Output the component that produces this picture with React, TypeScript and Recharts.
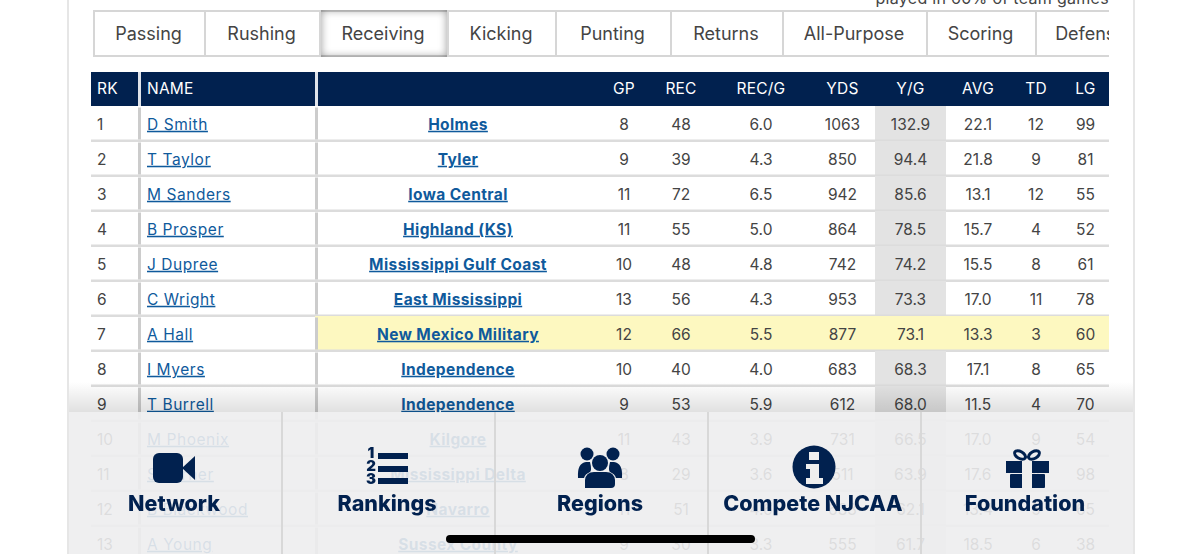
import { BarChart, Bar, XAxis, YAxis } from 'recharts';

const ranks = [1, 2, 3, 4, 5, 6, 7, 8, 9, 10, 11, 12, 13];
const names = ['D Smith', 'T Taylor', 'M Sanders', 'B Prosper', 'J Dupree', 'C Wright', 'A Hall', 'I Myers', 'T Burrell', 'M Phoenix', 'S Turner', 'B Blackwood', 'A Young'];
const teams = ['Holmes', 'Tyler', 'Iowa Central', 'Highland (KS)', 'Mississippi Gulf Coast', 'East Mississippi', 'New Mexico Military', 'Independence', 'Independence', 'Kilgore', 'Mississippi Delta', 'Navarro', 'Sussex County'];
const gp = [8, 9, 11, 11, 10, 13, 12, 10, 9, 11, 8, 11, 9];
const rec = [48, 39, 72, 55, 48, 56, 66, 40, 53, 43, 29, 51, 30];
const recPerGame = [6.0, 4.3, 6.5, 5.0, 4.8, 4.3, 5.5, 4.0, 5.9, 3.9, 3.6, 4.6, 3.3];
const yds = [1063, 850, 942, 864, 742, 953, 877, 683, 612, 731, 511, 683, 555];
const yardsPerGame = [132.9, 94.4, 85.6, 78.5, 74.2, 73.3, 73.1, 68.3, 68.0, 66.5, 63.9, 62.1, 61.7];
const avg = [22.1, 21.8, 13.1, 15.7, 15.5, 17.0, 13.3, 17.1, 11.5, 17.0, 17.6, 13.4, 18.5];
const td = [12, 9, 12, 4, 8, 11, 3, 8, 4, 9, 4, 5, 6];
const lg = [99, 81, 55, 52, 61, 78, 60, 65, 70, 54, 98, 65, 38];

const tabs = ['Passing', 'Rushing', 'Receiving', 'Kicking', 'Punting', 'Returns', 'All-Purpose', 'Scoring', 'Defense'];
const tabEdges = [93, 204, 319, 447, 555, 670, 782, 926, 1035, 1146];
const navLabels = ['Network', 'Rankings', 'Regions', 'Compete NJCAA', 'Foundation'];

const FONT = 'Inter, "Open Sans", sans-serif';
const NAVY = '#01214f';
const INK = '#444444';
const LINK = '#0f5a9c';
const SELECTED_ROW = 7;

const fixed = (v: number) => v.toFixed(1);

const header: Record<string, string> = {
  rk: 'RK', name: 'NAME', team: '', gp: 'GP', rec: 'REC', recg: 'REC/G', yds: 'YDS', yg: 'Y/G', avg: 'AVG', td: 'TD', lg: 'LG',
};

const table = [
  header,
  ...ranks.map((r, i) => ({
    rk: String(r),
    name: names[i],
    team: teams[i],
    gp: String(gp[i]),
    rec: String(rec[i]),
    recg: fixed(recPerGame[i]),
    yds: String(yds[i]),
    yg: fixed(yardsPerGame[i]),
    avg: fixed(avg[i]),
    td: String(td[i]),
    lg: String(lg[i]),
  })),
];

// column widths in px, the x axis runs 1:1 with the page
const columns = [
  { key: 'rk', width: 47 },
  { key: 'name', width: 177 },
  { key: 'team', width: 283 },
  { key: 'gp', width: 52 },
  { key: 'rec', width: 62 },
  { key: 'recg', width: 98 },
  { key: 'yds', width: 65 },
  { key: 'yg', width: 71 },
  { key: 'avg', width: 64 },
  { key: 'td', width: 52 },
  { key: 'lg', width: 47 },
];

const makeCell = (key: string) => (props: any) => {
  const { x, y, width, height, index } = props;
  const value = props.payload[key];
  const isHeader = index === 0;
  const selected = ranks[index - 1] === SELECTED_ROW && key !== 'rk' && key !== 'name';
  const hasBar = key === 'name' || key === 'team';

  let bg = 'none';
  if (isHeader) bg = NAVY;
  else if (key === 'yg') bg = '#e3e3e3';
  if (selected) bg = '#fdf8c0';

  const left = key === 'rk' || key === 'name';
  const textX = key === 'rk' ? x + 6 : key === 'name' ? x + 9 : x + width / 2 + (key === 'team' ? 1.5 : 0);
  const isName = key === 'name' && !isHeader;
  const isTeam = key === 'team' && !isHeader;

  let spacing = 0;
  if (isHeader) spacing = 0.2;
  if (isName) spacing = 0.55;
  if (isTeam) spacing = 0.4;

  return (
    <g>
      <rect x={x} y={isHeader ? y + 1 : y} width={width} height={isHeader ? height - 1 : height} fill={bg} />
      {!isHeader && <rect x={x} y={y + height - 1.5} width={width} height={2.5} fill="#dcdcdc" />}
      {hasBar && (
        <rect x={x} y={isHeader ? y + 1 : y + 1.5} width={3} height={isHeader ? height - 1 : height - 3} fill={isHeader ? '#dfe3ea' : '#cccccc'} />
      )}
      <text
        x={textX}
        y={y + height / 2 + (isHeader ? 1 : 2)}
        dominantBaseline="middle"
        textAnchor={left ? 'start' : 'middle'}
        fontFamily={FONT}
        fontSize={15.5}
        fontWeight={isTeam ? 700 : 400}
        letterSpacing={spacing}
        fill={isHeader ? '#ffffff' : isName || isTeam ? LINK : INK}
        textDecoration={isName || isTeam ? 'underline' : undefined}
      >
        {value}
      </text>
    </g>
  );
};

const NavIcons = () => (
  <svg width={1200} height={554} style={{ position: 'absolute', left: 0, top: 0 }}>
    {/* camera */}
    <rect x={153} y={453} width={30} height={30} rx={6} fill={NAVY} />
    <path d="M182 468 L195 456 L195 480 Z" fill={NAVY} />
    {/* rankings */}
    <rect x={378} y={453} width={30} height={6} fill={NAVY} />
    <rect x={378} y={466} width={30} height={6} fill={NAVY} />
    <rect x={378} y={478} width={30} height={6} fill={NAVY} />
    {[1, 2, 3].map((n, i) => (
      <text key={n} x={371} y={458 + i * 13} textAnchor="middle" fontFamily={FONT} fontSize={15} fontWeight={900} fill={NAVY}>{n}</text>
    ))}
    {/* regions */}
    <circle cx={587} cy={454} r={6.5} fill={NAVY} />
    <circle cx={613} cy={454} r={6.5} fill={NAVY} />
    <circle cx={600} cy={463} r={8} fill={NAVY} />
    <path d="M578 478 Q577 463 586 462 L590 462 Q592 470 590 472 Q585 474 584 478 Z" fill={NAVY} />
    <path d="M622 478 Q623 463 614 462 L610 462 Q608 470 610 472 Q615 474 616 478 Z" fill={NAVY} />
    <path d="M585 488 L585 480 Q586 472 594 472 L606 472 Q614 472 615 480 L615 484 Q615 488 611 488 Z" fill={NAVY} />
    {/* info */}
    <circle cx={814} cy={467} r={21.5} fill={NAVY} />
    <rect x={809} y={452} width={10} height={8} fill="#eeeeee" />
    <path d="M806 464 L819 464 L819 478 L823 478 L823 484 L806 484 L806 478 L810 478 L810 469 L806 469 Z" fill="#eeeeee" />
    {/* gift */}
    <ellipse cx={1020} cy={455} rx={6} ry={3.5} transform="rotate(30 1020 455)" fill="none" stroke={NAVY} strokeWidth={3} />
    <ellipse cx={1034} cy={455} rx={6} ry={3.5} transform="rotate(-30 1034 455)" fill="none" stroke={NAVY} strokeWidth={3} />
    <rect x={1006} y={461} width={43} height={12} fill={NAVY} />
    <rect x={1010} y={474} width={35} height={14} rx={1} fill={NAVY} />
    <rect x={1022} y={461} width={10} height={27} fill="#eeeeee" />
    {/* labels */}
    {navLabels.map((label, i) => (
      <text key={label} x={[174, 387, 600, 813, 1025][i]} y={511} textAnchor="middle" fontFamily={FONT} fontSize={21.5} fontWeight={800} fill={NAVY}>
        {label}
      </text>
    ))}
    <rect x={446} y={535} width={309} height={8} rx={4} fill="#000000" />
  </svg>
);

export default function App() {
  return (
    <div style={{ position: 'fixed', left: 0, top: 0, width: 1200, height: 554, overflow: 'hidden', background: '#ffffff', fontFamily: FONT }}>
      <div style={{ position: 'absolute', left: 67, top: 0, width: 2, height: 554, background: '#e6e6e6' }} />
      <div style={{ position: 'absolute', left: 1133, top: 0, width: 2, height: 554, background: '#e6e6e6' }} />
      <div style={{ position: 'absolute', right: 91, top: -12, fontSize: 16, letterSpacing: 0.3, color: INK }}>played in 60% of team games</div>

      <div style={{ position: 'absolute', left: 93, top: 10, width: 1016, height: 47, overflow: 'hidden' }}>
        <div style={{ position: 'absolute', left: 0, top: 0, width: 1016, height: 47, borderTop: '2px solid #d6d6d6', borderBottom: '2px solid #d6d6d6', boxSizing: 'border-box' }} />
        {tabs.map((t, i) => (
          <div
            key={t}
            style={{
              position: 'absolute',
              left: tabEdges[i] - 93,
              top: 0,
              width: tabEdges[i + 1] - tabEdges[i],
              height: 47,
              boxSizing: 'border-box',
              borderLeft: '2px solid #d6d6d6',
              paddingRight: 2,
              display: 'flex',
              alignItems: 'center',
              justifyContent: 'center',
              fontSize: 18,
              color: INK,
              boxShadow: t === 'Receiving' ? 'inset 0 0 9px rgba(0,0,0,0.4)' : undefined,
            }}
          >
            {t}
          </div>
        ))}
      </div>

      <div style={{ position: 'absolute', left: 0, top: 0 }}>
        <BarChart
          width={1200}
          height={561}
          data={table}
          layout="vertical"
          barCategoryGap={0}
          margin={{ top: 71, right: 0, bottom: 0, left: 0 }}
        >
          <XAxis type="number" domain={[0, 1200]} hide />
          <YAxis type="category" dataKey="rk" hide />
          <Bar dataKey={() => 91} stackId="row" fill="none" isAnimationActive={false} />
          {columns.map((c) => (
            <Bar key={c.key} dataKey={() => c.width} stackId="row" shape={makeCell(c.key)} isAnimationActive={false} />
          ))}
        </BarChart>
      </div>

      <div style={{ position: 'absolute', left: 69, top: 382, width: 1064, height: 30, background: 'linear-gradient(rgba(0,0,0,0), rgba(0,0,0,0.12))' }} />
      <div style={{ position: 'absolute', left: 69, top: 412, width: 1064, height: 142, background: 'rgba(237,237,238,0.9)', backdropFilter: 'blur(0.6px)' }}>
        {[281, 494, 707, 920].map((d) => (
          <div key={d} style={{ position: 'absolute', left: d - 69, top: 0, width: 2, height: 142, background: '#d8d8d8' }} />
        ))}
      </div>
      <NavIcons />
    </div>
  );
}
